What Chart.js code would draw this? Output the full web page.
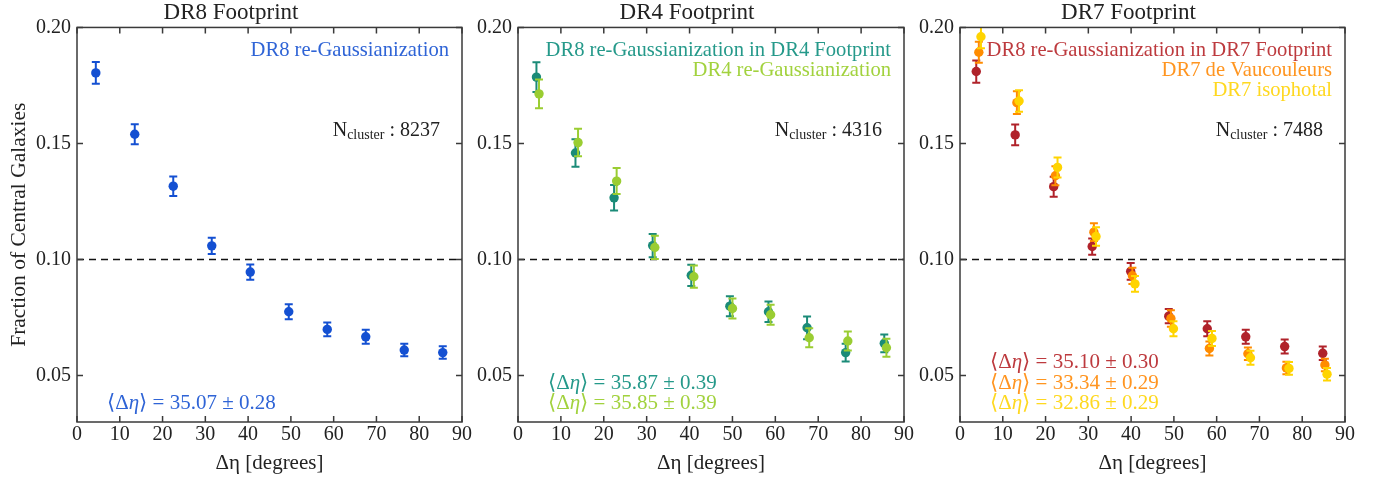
<!DOCTYPE html>
<html>
<head>
<meta charset="utf-8">
<script src="https://cdn.jsdelivr.net/npm/chart.js@4.4.0/dist/chart.umd.min.js"></script>
<style>
    html, body { margin: 0; background: #fff; }
    #wrap { position: relative; width: 1383px; height: 481px; overflow: hidden; }
    #wrap canvas { position: absolute; top: 0; }
</style>
</head>
<body>
<div id="wrap">
    <canvas id="panelDR8" width="480" height="481" style="left:0px"></canvas>
    <canvas id="panelDR4" width="450" height="481" style="left:470px"></canvas>
    <canvas id="panelDR7" width="471" height="481" style="left:912px"></canvas>
</div>
<script>
// axis ticks
const xTicks = [0, 10, 20, 30, 40, 50, 60, 70, 80, 90];
const yTicks = [0.05, 0.10, 0.15, 0.20];
const refLevel = 0.10;

// DR8 footprint
const dr8X    = [4.4, 13.5, 22.5, 31.5, 40.5, 49.5, 58.5, 67.5, 76.5, 85.5];
const dr8Frac = [0.1804, 0.1540, 0.1316, 0.1059, 0.0946, 0.0775, 0.0699, 0.0667, 0.0610, 0.0599];
const dr8Err  = [0.0047, 0.0043, 0.0042, 0.0035, 0.0033, 0.0032, 0.0030, 0.0030, 0.0027, 0.0027];

// DR4 footprint
const dr8in4X    = [4.3, 13.4, 22.4, 31.4, 40.4, 49.4, 58.4, 67.4, 76.4, 85.4];
const dr8in4Frac = [0.1786, 0.1459, 0.1266, 0.1060, 0.0932, 0.0799, 0.0775, 0.0706, 0.0599, 0.0639];
const dr8in4Err  = [0.0064, 0.0059, 0.0055, 0.0050, 0.0046, 0.0043, 0.0044, 0.0049, 0.0038, 0.0038];
const dr4X    = [4.9, 14.0, 23.0, 31.9, 41.0, 50.0, 58.9, 67.9, 76.9, 85.9];
const dr4Frac = [0.1714, 0.1504, 0.1338, 0.1052, 0.0926, 0.0789, 0.0762, 0.0663, 0.0649, 0.0620];
const dr4Err  = [0.0062, 0.0059, 0.0056, 0.0050, 0.0048, 0.0043, 0.0043, 0.0041, 0.0041, 0.0039];

// DR7 footprint
const dr8in7X    = [3.8, 12.9, 21.9, 30.9, 39.9, 48.8, 57.8, 66.8, 75.9, 84.8];
const dr8in7Frac = [0.1810, 0.1537, 0.1314, 0.1056, 0.0949, 0.0756, 0.0702, 0.0667, 0.0625, 0.0596];
const dr8in7Err  = [0.0048, 0.0045, 0.0043, 0.0035, 0.0036, 0.0031, 0.0032, 0.0030, 0.0030, 0.0029];
const devX    = [4.4, 13.3, 22.3, 31.3, 40.3, 49.3, 58.3, 67.3, 76.3, 85.3];
const devFrac = [0.1893, 0.1676, 0.1361, 0.1118, 0.0930, 0.0746, 0.0617, 0.0594, 0.0533, 0.0546];
const devErr  = [0.0045, 0.0049, 0.0041, 0.0038, 0.0035, 0.0036, 0.0030, 0.0027, 0.0027, 0.0027];
const isoX    = [4.9, 13.8, 22.8, 31.8, 40.9, 49.9, 58.9, 67.9, 76.9, 85.8];
const isoFrac = [0.1960, 0.1683, 0.1397, 0.1099, 0.0895, 0.0702, 0.0660, 0.0577, 0.0531, 0.0506];
const isoErr  = [0.0050, 0.0046, 0.0043, 0.0040, 0.0034, 0.0032, 0.0032, 0.0030, 0.0027, 0.0027];

const FONT = '"Liberation Serif", "DejaVu Serif", serif';

function toPoints(xs, ys) {
    return xs.map((x, i) => ({ x: x, y: ys[i] }));
}

// error bars drawn under each dataset's markers
const errorBars = {
    id: 'errorBars',
    beforeDatasetDraw(chart, args) {
        const ds = chart.data.datasets[args.index];
        if (!ds.errors) return;
        const { ctx, chartArea, scales } = chart;
        ctx.save();
        ctx.beginPath();
        ctx.rect(chartArea.left, chartArea.top, chartArea.width, chartArea.height);
        ctx.clip();
        ctx.strokeStyle = ds.backgroundColor;
        ctx.lineWidth = 2;
        ds.data.forEach((p, i) => {
            const px = scales.x.getPixelForValue(p.x);
            const top = scales.y.getPixelForValue(p.y + ds.errors[i]);
            const bot = scales.y.getPixelForValue(p.y - ds.errors[i]);
            ctx.beginPath();
            ctx.moveTo(px, top); ctx.lineTo(px, bot);
            ctx.moveTo(px - 4, top); ctx.lineTo(px + 4, top);
            ctx.moveTo(px - 4, bot); ctx.lineTo(px + 4, bot);
            ctx.stroke();
        });
        ctx.restore();
    }
};

// box frame with inward ticks on all four sides
const frame = {
    id: 'frame',
    afterDatasetsDraw(chart) {
        const { ctx, chartArea: a, scales } = chart;
        const len = 6;
        ctx.save();
        ctx.strokeStyle = '#3a3a3a';
        ctx.lineWidth = 1.5;
        ctx.strokeRect(a.left, a.top, a.right - a.left, a.bottom - a.top);
        ctx.beginPath();
        xTicks.forEach(v => {
            const px = scales.x.getPixelForValue(v);
            ctx.moveTo(px, a.bottom); ctx.lineTo(px, a.bottom - len);
            ctx.moveTo(px, a.top); ctx.lineTo(px, a.top + len);
        });
        yTicks.forEach(v => {
            const py = scales.y.getPixelForValue(v);
            ctx.moveTo(a.left, py); ctx.lineTo(a.left + len, py);
            ctx.moveTo(a.right, py); ctx.lineTo(a.right - len, py);
        });
        ctx.stroke();
        ctx.restore();
    }
};

// draw a run of text pieces (italic / subscript) starting at x
function drawRuns(ctx, runs, x, y, align, base) {
    const fontOf = r => (r.italic ? 'italic ' : '') + (r.size || base || 20) + 'px ' + FONT;
    let total = 0;
    runs.forEach(r => { ctx.font = fontOf(r); total += ctx.measureText(r.t).width; });
    let cx = align === 'right' ? x - total : x;
    ctx.textAlign = 'left';
    ctx.textBaseline = 'alphabetic';
    runs.forEach(r => {
        ctx.font = fontOf(r);
        ctx.fillText(r.t, cx, y + (r.dy || 0));
        cx += ctx.measureText(r.t).width;
    });
}

const panelText = {
    id: 'panelText',
    afterDraw(chart, args, opts) {
        const { ctx, chartArea: a } = chart;
        ctx.save();
        opts.legend.forEach((item, i) => {
            ctx.fillStyle = item.color;
            drawRuns(ctx, [{ t: item.text }], a.right - 13, a.top + 29 + i * 20, 'right', 20.6);
        });
        ctx.fillStyle = '#222';
        drawRuns(ctx, [
            { t: 'N' },
            { t: 'cluster', size: 14, dy: 3 },
            { t: ' : ' + opts.nCluster }
        ], a.right - 22, a.top + 109, 'right', 20);
        const n = opts.means.length;
        opts.means.forEach((m, i) => {
            ctx.fillStyle = m.color;
            drawRuns(ctx, [
                { t: '\u27E8\u0394' },
                { t: '\u03B7', italic: true },
                { t: '\u27E9 = ' + m.text }
            ], a.left + 30, a.bottom - 13 - (n - 1 - i) * 20.5, 'left', 21);
        });
        ctx.restore();
    }
};

function makePanel(id, cfg) {
    const series = cfg.series.map((s, i) => ({
        label: s.label,
        data: toPoints(s.x, s.y),
        errors: s.err,
        backgroundColor: s.color,
        borderColor: s.color,
        pointRadius: 4.7,
        pointHoverRadius: 4.7,
        pointBorderWidth: 0,
        order: cfg.series.length - i
    }));
    const refLine = {
        type: 'line',
        label: 'ref',
        data: [{ x: xTicks[0], y: refLevel }, { x: xTicks[xTicks.length - 1], y: refLevel }],
        borderColor: '#111',
        borderWidth: 1.4,
        borderDash: [7, 5],
        pointRadius: 0,
        order: 10
    };
    return new Chart(document.getElementById(id), {
        type: 'scatter',
        data: { datasets: [refLine].concat(series) },
        plugins: [errorBars, frame, panelText],
        options: {
            responsive: false,
            devicePixelRatio: 1,
            animation: false,
            layout: { padding: { left: 0, right: cfg.padRight, top: 0, bottom: 0 } },
            plugins: {
                legend: { display: false },
                tooltip: { enabled: false },
                title: {
                    display: true,
                    text: cfg.title,
                    color: '#222',
                    font: { family: FONT, size: 23, weight: 'normal', lineHeight: 1.15 },
                    padding: { top: 0, bottom: 1 }
                },
                panelText: { legend: cfg.legend, nCluster: cfg.nCluster, means: cfg.means }
            },
            scales: {
                x: {
                    type: 'linear',
                    min: 0,
                    max: 90,
                    afterBuildTicks: scale => { scale.ticks = xTicks.map(v => ({ value: v })); },
                    afterFit: scale => { scale.height = 59; },
                    grid: { display: false, drawTicks: false },
                    border: { display: false },
                    ticks: {
                        padding: 1,
                        color: '#222',
                        font: { family: FONT, size: 20 },
                        callback: v => String(v)
                    },
                    title: {
                        display: true,
                        text: '\u0394\u03B7 [degrees]',
                        color: '#222',
                        font: { family: FONT, size: 21 },
                        padding: { top: 0, bottom: 5 }
                    }
                },
                y: {
                    type: 'linear',
                    min: 0.03,
                    max: 0.20,
                    afterBuildTicks: scale => { scale.ticks = yTicks.map(v => ({ value: v })); },
                    afterFit: scale => { scale.width = cfg.yWidth; },
                    grid: { display: false, drawTicks: false },
                    border: { display: false },
                    ticks: {
                        padding: 6,
                        color: '#222',
                        font: { family: FONT, size: 20 },
                        callback: v => v.toFixed(2)
                    },
                    title: {
                        display: cfg.yTitle,
                        text: 'Fraction of Central Galaxies',
                        color: '#222',
                        font: { family: FONT, size: 21.5 },
                        padding: { top: 6, bottom: 0 }
                    }
                }
            }
        }
    });
}

const BLUE = '#1450d2', TEAL = '#1b8b78', LIME = '#9acd32';
const RED = '#b0222a', ORANGE = '#ff8c00', GOLD = '#ffd400';

makePanel('panelDR8', {
    title: 'DR8 Footprint',
    yWidth: 77, padRight: 18, yTitle: true,
    series: [{ label: 'DR8 re-Gaussianization', x: dr8X, y: dr8Frac, err: dr8Err, color: BLUE }],
    legend: [{ text: 'DR8 re-Gaussianization', color: '#2f64d6' }],
    nCluster: '8237',
    means: [{ text: '35.07 \u00B1 0.28', color: '#2f64d6' }]
});

makePanel('panelDR4', {
    title: 'DR4 Footprint',
    yWidth: 48, padRight: 16, yTitle: false,
    series: [
        { label: 'DR8 re-Gaussianization in DR4 Footprint', x: dr8in4X, y: dr8in4Frac, err: dr8in4Err, color: TEAL },
        { label: 'DR4 re-Gaussianization', x: dr4X, y: dr4Frac, err: dr4Err, color: LIME }
    ],
    legend: [
        { text: 'DR8 re-Gaussianization in DR4 Footprint', color: '#25998a' },
        { text: 'DR4 re-Gaussianization', color: '#a2d23e' }
    ],
    nCluster: '4316',
    means: [
        { text: '35.87 \u00B1 0.39', color: '#25998a' },
        { text: '35.85 \u00B1 0.39', color: '#a2d23e' }
    ]
});

makePanel('panelDR7', {
    title: 'DR7 Footprint',
    yWidth: 48, padRight: 38, yTitle: false,
    series: [
        { label: 'DR8 re-Gaussianization in DR7 Footprint', x: dr8in7X, y: dr8in7Frac, err: dr8in7Err, color: RED },
        { label: 'DR7 de Vaucouleurs', x: devX, y: devFrac, err: devErr, color: ORANGE },
        { label: 'DR7 isophotal', x: isoX, y: isoFrac, err: isoErr, color: GOLD }
    ],
    legend: [
        { text: 'DR8 re-Gaussianization in DR7 Footprint', color: '#bd3a3e' },
        { text: 'DR7 de Vaucouleurs', color: '#ff9520' },
        { text: 'DR7 isophotal', color: '#ffd820' }
    ],
    nCluster: '7488',
    means: [
        { text: '35.10 \u00B1 0.30', color: '#bd3a3e' },
        { text: '33.34 \u00B1 0.29', color: '#ff9520' },
        { text: '32.86 \u00B1 0.29', color: '#ffd820' }
    ]
});
</script>
</body>
</html>
